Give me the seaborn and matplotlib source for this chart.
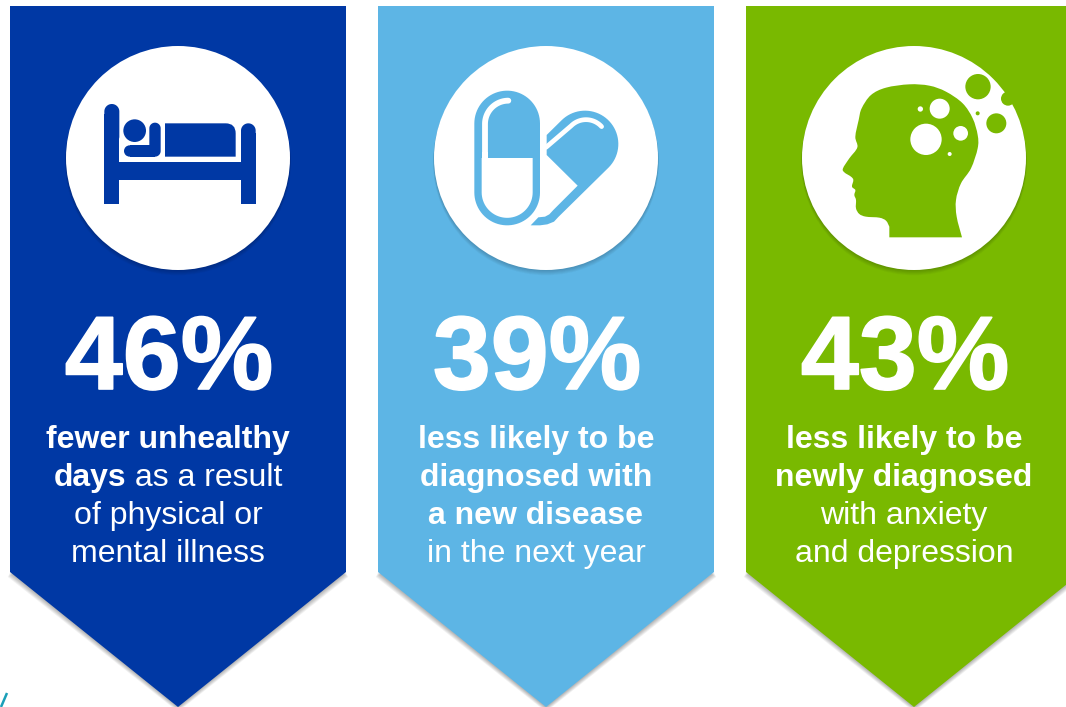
import matplotlib
matplotlib.use("Agg")
import matplotlib.pyplot as plt
from matplotlib.patches import Circle, Polygon, PathPatch, Rectangle
from matplotlib.patheffects import withStroke
from matplotlib.path import Path
import numpy as np
import seaborn as sns

# Headline figures and the wording under each one
percent_values = [46, 39, 43]
panel_lines = [
    [[("fewer unhealthy", True)],
     [("days", True), (" as a result", False)],
     [("of physical or", False)],
     [("mental illness", False)]],
    [[("less likely to be", True)],
     [("diagnosed with", True)],
     [("a new disease", True)],
     [("in the next year", False)]],
    [[("less likely to be", True)],
     [("newly diagnosed", True)],
     [("with anxiety", False)],
     [("and depression", False)]],
]
panel_colors = ["#0038A4", "#5DB5E5", "#79B900"]

sns.set_theme(style="white")
plt.rcParams["font.family"] = ["Liberation Sans", "DejaVu Sans"]
palette = sns.color_palette(panel_colors)

fig = plt.figure(figsize=(10.66, 7.07), dpi=100, facecolor="white")
ax = fig.add_axes([0, 0, 1, 1])
ax.set_xlim(0, 1066)
ax.set_ylim(707, 0)
ax.axis("off")
sns.despine(ax=ax, left=True, bottom=True)


def soft_shadow(make_patch, steps=6, alpha=0.05):
    """Stack faint offset copies of a shape to fake a drop shadow."""
    for i in range(steps, 0, -1):
        make_patch(i * 0.8, alpha)


def arc_points(cx, cy, r, start_deg, end_deg, n=40):
    """Points on a circle, angles measured clockwise on screen from +x."""
    t = np.radians(np.linspace(start_deg, end_deg, n))
    return np.column_stack([cx + r * np.cos(t), cy + r * np.sin(t)])


def banner(left, color):
    right, tip = left + 336, left + 168
    pts = [(left, 6), (right, 6), (right, 572), (tip, 707), (left, 572)]

    def shade(off, alpha):
        shifted = [(x + (-off * 0.5 if x < tip else off * 0.5 if x > tip else 0), y + off)
                   for x, y in pts[2:]]
        ax.add_patch(Polygon([(right, 400), (left, 400)] + shifted[::-1][::-1], closed=True,
                             fc="black", ec="none", alpha=alpha, zorder=1))

    soft_shadow(shade)
    ax.add_patch(Polygon(pts, closed=True, fc=color, ec="none", zorder=2))


def disc(cx, color):
    def shade(off, alpha):
        ax.add_patch(Circle((cx, 158 + off * 0.9), 112 + off * 0.2, fc="black", ec="none",
                            alpha=alpha, zorder=3))

    soft_shadow(shade, alpha=0.03)
    ax.add_patch(Circle((cx, 158), 112, fc="white", ec="none", zorder=4))


def stadium(x0, y0, x1, y1, color, z=5):
    """Upright capsule with fully round ends."""
    r = (x1 - x0) / 2
    cx = (x0 + x1) / 2
    top = arc_points(cx, y0 + r, r, 180, 360)
    bottom = arc_points(cx, y1 - r, r, 0, 180)
    ax.add_patch(Polygon(np.vstack([top, bottom]), closed=True, fc=color, ec="none", zorder=z))


def bed_icon(ox, oy, color):
    X = lambda v: ox + v / 3
    Y = lambda v: oy + v / 3
    # posts: rounded at the top, square at the floor
    for a, b, top in [(133, 178, 192), (543, 587, 250)]:
        stadium(X(a), Y(top), X(b), Y(top + 120), color)
        ax.add_patch(Rectangle((X(a), Y(top + 30)), (b - a) / 3, (492 - top - 30) / 3,
                               fc=color, ec="none", zorder=5))
    ax.add_patch(Rectangle((X(170), Y(366)), 380 / 3, 54 / 3, fc=color, ec="none", zorder=5))
    # sleeper: head, arm and blanket
    ax.add_patch(Circle((X(224), Y(272)), 34 / 3, fc=color, ec="none", zorder=5))
    ax.add_patch(Circle((X(209), Y(333)), 17 / 3, fc=color, ec="none", zorder=5))
    ax.add_patch(Rectangle((X(209), Y(316)), 76 / 3, 34 / 3, fc=color, ec="none", zorder=5))
    stadium(X(268), Y(248), X(302), Y(350), color)
    verts = [(315, 350), (315, 250), (497, 250), (527, 250), (527, 280), (527, 350), (315, 350)]
    codes = [Path.MOVETO, Path.LINETO, Path.LINETO, Path.CURVE3, Path.CURVE3, Path.LINETO,
             Path.CLOSEPOLY]
    ax.add_patch(PathPatch(Path([(X(a), Y(b)) for a, b in verts], codes),
                           fc=color, ec="none", zorder=5))


def pill_icon(ox, oy, color):
    X = lambda v: ox + v / 3
    Y = lambda v: oy + v / 3
    to_px = lambda arr: np.column_stack([ox + np.asarray(arr)[:, 0] / 3,
                                         oy + np.asarray(arr)[:, 1] / 3])
    # upright capsule: solid shell, white lower half, white gleam on the upper half
    stadium(X(133), Y(152), X(330), Y(556), color, 5)
    lower = np.vstack([[(155, 354), (308, 354)], arc_points(231.5, 457, 76.5, 0, 180)])
    ax.add_patch(Polygon(to_px(lower), closed=True, fc="white", ec="none", zorder=6))
    gleam = np.vstack([[(165, 354)], arc_points(235, 252, 70, 180, 270)])
    px = to_px(gleam)
    ax.plot(px[:, 0], px[:, 1], color="white", lw=4.2, solid_capstyle="round", zorder=8)
    ax.add_patch(Rectangle((X(155), Y(335)), 20 / 3, 19 / 3, fc="white", ec="none", zorder=8))
    # tilted half capsule with its own gleam
    round_end = arc_points(465, 312, 100, 225, 405)
    tail = [(385, 531), (372, 545), (352, 553), (330, 556), (302, 556), (325, 532),
            (345, 530), (358, 523), (370, 510), (443, 437), (350, 345), (350, 285)]
    ax.add_patch(Polygon(to_px(np.vstack([[(350, 285)], round_end, tail])), closed=True,
                         fc=color, ec="none", zorder=5))
    gleam2 = np.vstack([[(348, 322)], arc_points(468, 302, 63, 225, 318)])
    px = to_px(gleam2)
    ax.plot(px[:, 0], px[:, 1], color="white", lw=3.4, solid_capstyle="round", zorder=8)


def head_icon(ox, oy, color):
    X = lambda v: ox + v / 3
    Y = lambda v: oy + v / 3
    outline = np.array([
        (280, 560), (270, 542), (250, 533), (210, 530), (190, 522), (180, 505), (180, 480),
        (175, 465), (178, 450), (168, 440), (172, 420), (165, 410), (145, 397), (141, 385),
        (160, 355), (184, 322), (178, 290), (188, 240), (197, 205), (225, 165), (270, 143),
        (340, 133), (400, 137), (450, 155), (500, 190), (530, 235), (545, 285), (545, 325),
        (525, 385), (495, 430), (480, 480), (482, 530), (498, 592)], dtype=float)
    # smooth cubic segments running through each outline vertex
    verts = [(280, 592), tuple(outline[0])]
    codes = [Path.MOVETO, Path.LINETO]
    for i in range(len(outline) - 1):
        p0 = outline[max(i - 1, 0)]
        p1, p2 = outline[i], outline[i + 1]
        p3 = outline[min(i + 2, len(outline) - 1)]
        verts += [tuple(p1 + (p2 - p0) / 6), tuple(p2 - (p3 - p1) / 6), tuple(p2)]
        codes += [Path.CURVE4] * 3
    verts.append((280, 592))
    codes.append(Path.CLOSEPOLY)
    ax.add_patch(PathPatch(Path([(X(a), Y(b)) for a, b in verts], codes),
                           fc=color, ec="none", zorder=5))
    for a, b, r in [(431, 206, 30), (390, 298, 47), (494, 280, 22), (373, 207, 8), (461, 342, 6)]:
        ax.add_patch(Circle((X(a), Y(b)), r / 3, fc="white", ec="none", zorder=6))
    for a, b, r in [(546, 140, 38), (601, 250, 30), (545, 220, 6), (636, 176, 21)]:
        ax.add_patch(Circle((X(a), Y(b)), r / 3, fc=color, ec="none", zorder=6))


def centered_runs(cx, baseline, runs, size=23):
    """Write one line of mixed bold and regular text, centred on cx."""
    renderer = fig.canvas.get_renderer()
    items = []
    total = 0
    for label, bold in runs:
        t = ax.text(0, baseline, label.replace(" ", "\u00a0"), fontsize=size, color="white",
                    fontweight="bold" if bold else "normal", va="baseline", ha="left", zorder=9)
        w = t.get_window_extent(renderer).width
        items.append((t, w))
        total += w
    x = cx - total / 2
    for t, w in items:
        t.set_x(x)
        x += w


panel_lefts = [10, 378, 746]
icon_origins = [(60, 40), (430, 40), (796, 40)]
icon_makers = [bed_icon, pill_icon, head_icon]
line_baselines = [448, 486, 524, 562]

for left, value, lines, color, origin, draw_icon in zip(
        panel_lefts, percent_values, panel_lines, palette, icon_origins, icon_makers):
    banner(left, color)
    disc(left + 168, color)
    draw_icon(origin[0], origin[1], color)
    ax.text(left + 159, 389, f"{value}%", fontsize=75, fontweight="bold", color="white",
            ha="center", va="baseline", zorder=9,
            path_effects=[withStroke(linewidth=1.2, foreground="white")])
    for baseline, runs in zip(line_baselines, lines):
        centered_runs(left + 158, baseline, runs)

# Corner of the teal mark peeking in at the bottom left
ax.plot([1, 7], [707, 693], color="#1B9FB8", lw=1.8, solid_capstyle="butt", zorder=2)

fig.savefig("out.png", dpi=100, facecolor="white")
